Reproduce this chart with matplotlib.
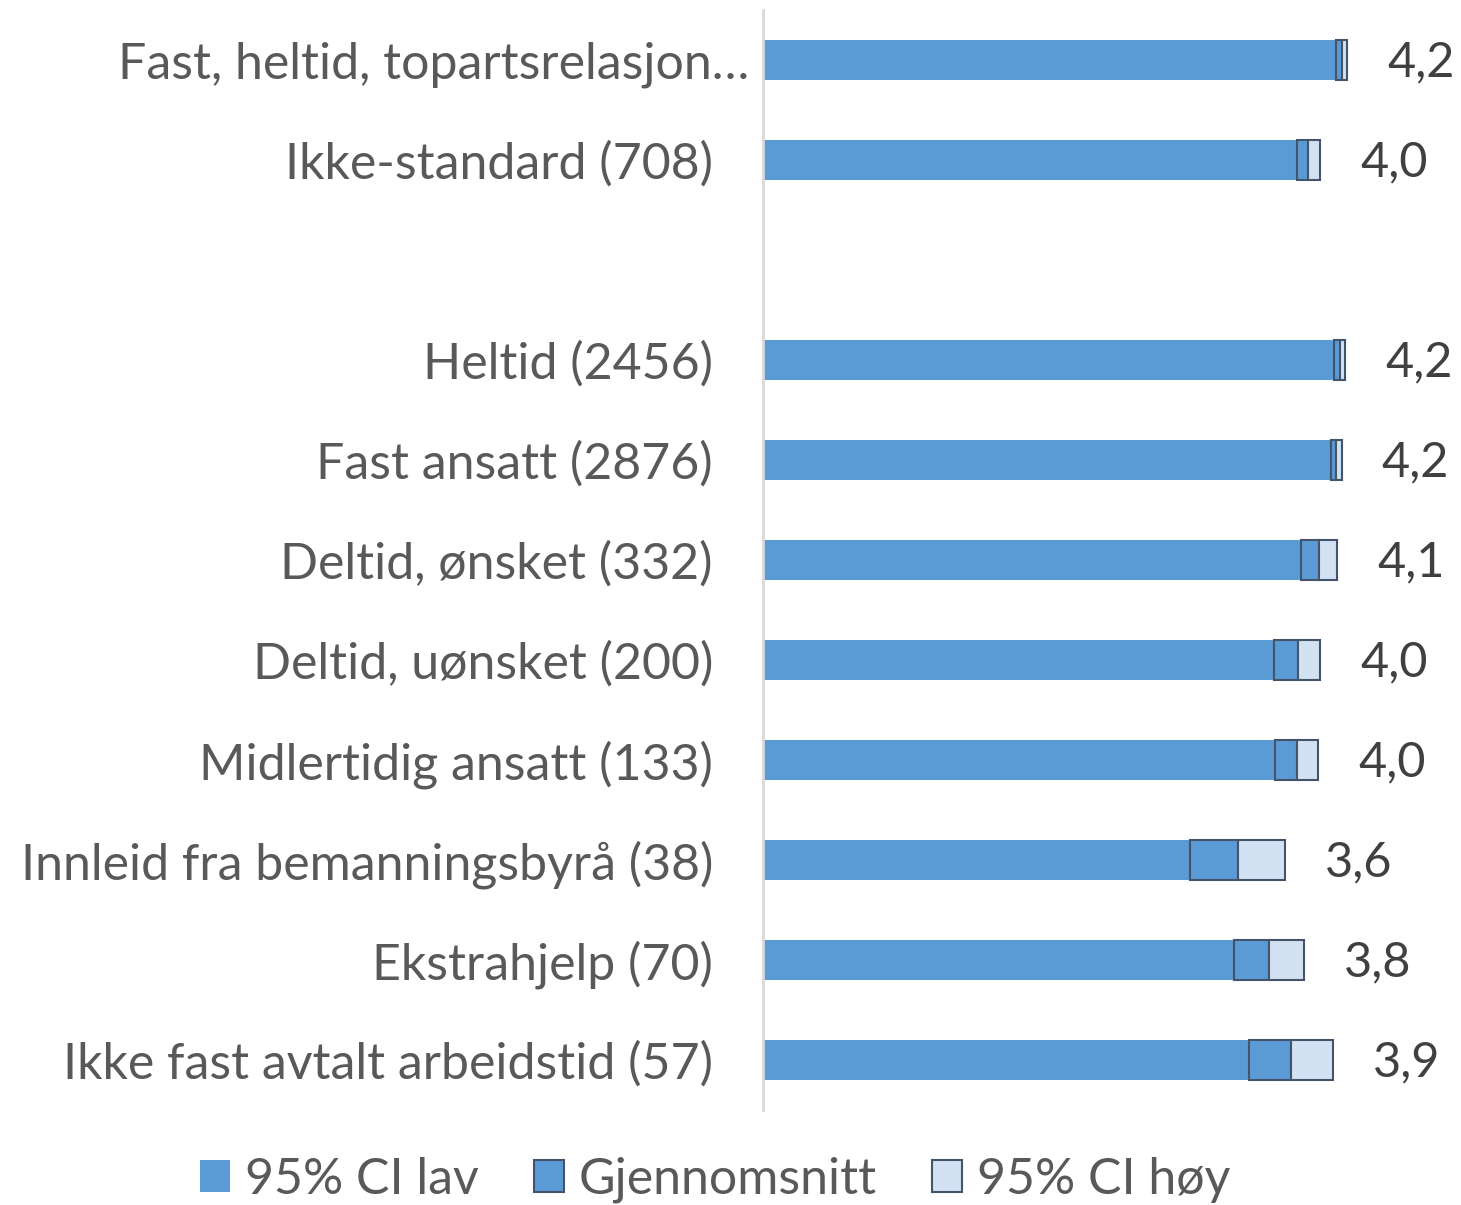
import numpy as np
import matplotlib.pyplot as plt
import matplotlib.transforms as mtransforms

plt.rcParams['font.family'] = ['Lato', 'DejaVu Sans']

categories = ['Fast, heltid, topartsrelasjon…', 'Ikke-standard (708)', '',
              'Heltid (2456)', 'Fast ansatt (2876)', 'Deltid, ønsket (332)',
              'Deltid, uønsket (200)', 'Midlertidig ansatt (133)',
              'Innleid fra bemanningsbyrå (38)', 'Ekstrahjelp (70)',
              'Ikke fast avtalt arbeidstid (57)']
ci_low = [4.184, 3.968, np.nan, 4.173, 4.157, 3.990, 3.840, 3.842, 3.373, 3.616, 3.699]
mean = [4.218, 4.029, np.nan, 4.203, 4.186, 4.088, 3.971, 3.966, 3.638, 3.810, 3.931]
ci_high = [4.246, 4.096, np.nan, 4.232, 4.214, 4.190, 4.097, 4.086, 3.899, 4.004, 4.166]

x_min = 1
blue = '#5B9BD5'
light = '#D2E2F2'
edge = '#44546A'
fs = 36

fig = plt.figure(figsize=(14.61, 12.05), dpi=100)
ax = fig.add_axes([763 / 1461, 1 - 1110 / 1205, 630 / 1461, 1100 / 1205])

y = np.arange(len(categories))
low = np.array(ci_low)
mid = np.array(mean)
high = np.array(ci_high)
h = 0.4

ax.barh(y, low - x_min, left=x_min, height=h, color=blue, label='95% CI lav')
ax.barh(y, mid - low, left=low, height=h, color=blue, edgecolor=edge,
        linewidth=1.5, label='Gjennomsnitt')
ax.barh(y, high - mid, left=mid, height=h, color=light, edgecolor=edge,
        linewidth=1.5, label='95% CI høy')

for yi, m, hi in zip(y, mean, ci_high):
    if np.isnan(m):
        continue
    ax.annotate(f'{m:.1f}'.replace('.', ','), (hi, yi), xytext=(29, -2),
                textcoords='offset points', va='center', ha='left',
                fontsize=35, color='#404040')

ax.set_xlim(x_min, 4.5)
ax.set_ylim(len(categories) - 0.5, -0.5)
ax.set_yticks(y)
ax.set_yticklabels(categories, fontsize=fs, color='#595959')
ax.tick_params(axis='y', length=0, pad=36)
ax.set_xticks([])
for s in ['top', 'right', 'bottom']:
    ax.spines[s].set_visible(False)
ax.spines['left'].set_color('#D9D9D9')
ax.spines['left'].set_linewidth(2)

# first label is truncated in the original and sits closer to the axis
lbl = ax.get_yticklabels()[0]
lbl.set_transform(lbl.get_transform() + mtransforms.ScaledTranslation(36 / 100, 0, fig.dpi_scale_trans))

fig.legend(loc='center', bbox_to_anchor=(715 / 1461, 1 - 1180 / 1205), ncol=3,
           frameon=False, fontsize=fs, labelcolor='#595959',
           handlelength=0.6, handleheight=0.6, handletextpad=0.3, columnspacing=1.1)

fig.savefig('out.png', dpi=100)
